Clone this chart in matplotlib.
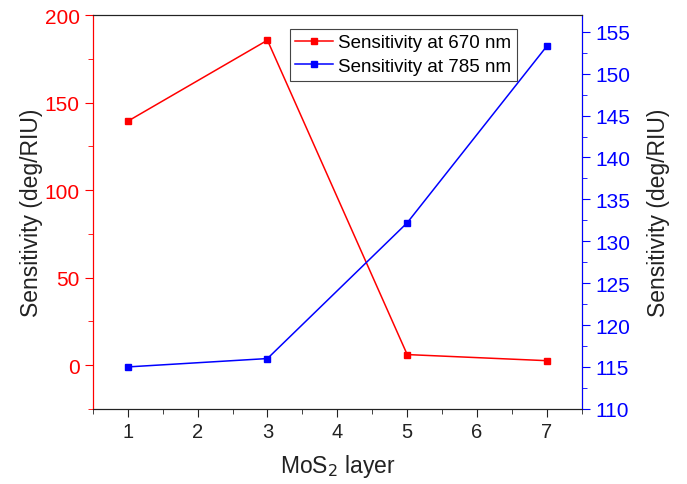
import numpy as np
import matplotlib
matplotlib.use('Agg')
import matplotlib.pyplot as plt
from matplotlib.ticker import MultipleLocator

matplotlib.rcParams.update({'font.size': 15, 'font.family': ['Liberation Sans', 'DejaVu Sans']})

layers = [1, 3, 5, 7]
sens_670 = [139.3, 185.6, 6.0, 2.5]
sens_785 = [115.0, 116.0, 132.2, 153.3]

red = '#ff0000'
blue = '#0000ff'

fig = plt.figure(figsize=(6.87, 4.85), dpi=100)
ax = fig.add_axes([0.135, 0.155, 0.712, 0.812])
ax2 = ax.twinx()

l1, = ax.plot(layers, sens_670, color=red, marker='s', markersize=5, lw=1.1, label='Sensitivity at 670 nm')
l2, = ax2.plot(layers, sens_785, color=blue, marker='s', markersize=5, lw=1.1, label='Sensitivity at 785 nm')

ax.set_xlim(0.5, 7.5)
ax.set_ylim(-25, 200)
ax2.set_ylim(110, 157)

ax.xaxis.set_major_locator(MultipleLocator(1))
ax.xaxis.set_minor_locator(MultipleLocator(0.5))
ax.yaxis.set_major_locator(MultipleLocator(50))
ax.yaxis.set_minor_locator(MultipleLocator(25))
ax2.yaxis.set_major_locator(MultipleLocator(5))
ax2.yaxis.set_minor_locator(MultipleLocator(2.5))

ax.tick_params(axis='x', which='both', direction='out', top=False, colors='#222222', labelsize=14.5)
ax.tick_params(axis='x', which='major', length=6)
ax.tick_params(axis='x', which='minor', length=3.5)
ax.tick_params(axis='y', which='both', colors=red, labelsize=15)
ax.tick_params(axis='y', which='major', length=6)
ax.tick_params(axis='y', which='minor', length=3.5)
ax2.tick_params(axis='y', which='both', colors=blue, labelsize=15)
ax2.tick_params(axis='y', which='major', length=6)
ax2.tick_params(axis='y', which='minor', length=3.5)

ax.spines['left'].set_color(red)
ax2.spines['left'].set_color(red)
ax2.spines['right'].set_color(blue)
for a in (ax, ax2):
    a.spines['top'].set_color('#222222')
    a.spines['bottom'].set_color('#222222')

ax.set_xlabel('MoS$_2$ layer', fontsize=16.5, color='#222222', labelpad=8)
ax.set_ylabel('Sensitivity (deg/RIU)', fontsize=16.5, color='#222222', labelpad=1)
ax2.set_ylabel('Sensitivity (deg/RIU)', fontsize=16.5, color='#222222', labelpad=12)

leg = ax.legend(handles=[l1, l2], loc='upper center', bbox_to_anchor=(0.635, 0.975),
                fontsize=13.5, fancybox=False, edgecolor='#444444', framealpha=1,
                borderpad=0.3, labelspacing=0.35, handlelength=2.0, handletextpad=0.3,
                borderaxespad=0.2)
leg.get_frame().set_linewidth(0.8)

fig.savefig('out.png', dpi=100)
